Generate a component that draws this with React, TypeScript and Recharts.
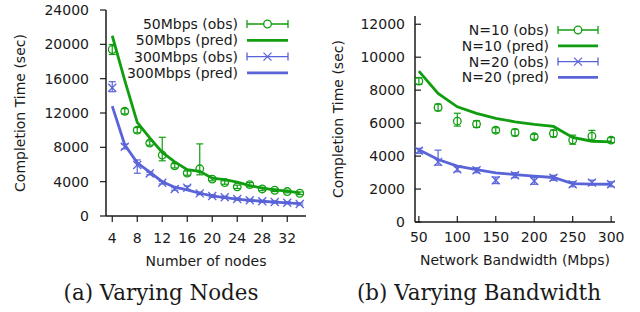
import React from 'react';
import { LineChart, Line, XAxis, YAxis, ErrorBar } from 'recharts';

const GREEN = '#109e10';
const BLUE = '#5a64d8';
const INK = '#1a1a1a';
const FONT = "'DejaVu Sans', sans-serif";
const SERIF = "'DejaVu Serif', serif";
const FS = 14;

// (a) varying nodes
const nodes = [4, 6, 8, 10, 12, 14, 16, 18, 20, 22, 24, 26, 28, 30, 32, 34];
const obs50 = [19400, 12200, 10000, 8500, 7100, 5850, 5000, 5500, 4300, 3900, 3400, 3650, 3150, 3000, 2850, 2650];
const err50 = [[580, 580], [300, 300], [300, 300], [250, 250], [670, 2070], [250, 250], [250, 250], [700, 2900], [200, 200], [200, 200], [200, 200], [250, 250], [200, 200], [150, 150], [150, 150], [150, 150]];
const pred50 = [21000, 15800, 10900, 9100, 7400, 6300, 5400, 5200, 4400, 4250, 3950, 3550, 3250, 3050, 2900, 2700];
const obs300 = [14950, 8070, 5950, 4950, 3880, 3150, 3300, 2640, 2330, 2180, 1980, 1830, 1710, 1630, 1550, 1400];
const err300 = [[470, 700], [250, 300], [970, 580], [150, 150], [150, 150], [150, 150], [200, 200], [150, 150], [150, 150], [120, 120], [120, 120], [120, 120], [120, 120], [120, 120], [120, 120], [120, 120]];
const pred300 = [12800, 8300, 6200, 5100, 4000, 3350, 3050, 2650, 2350, 2150, 1970, 1830, 1720, 1620, 1530, 1430];
const nodeTicks = [4, 8, 12, 16, 20, 24, 28, 32];
const nodeYTicks = [0, 4000, 8000, 12000, 16000, 20000, 24000];

// (b) varying bandwidth
const bandwidth = [50, 75, 100, 125, 150, 175, 200, 225, 250, 275, 300];
const obs10 = [8550, 6950, 6120, 5940, 5570, 5430, 5170, 5370, 4970, 5210, 4970];
const err10 = [[200, 200], [200, 200], [300, 480], [200, 200], [150, 150], [200, 200], [150, 150], [200, 200], [250, 300], [250, 350], [150, 150]];
const pred10 = [9160, 7800, 6990, 6590, 6290, 6080, 5920, 5800, 5130, 4900, 4860];
const obs20 = [4320, 3650, 3200, 3140, 2530, 2840, 2490, 2680, 2290, 2390, 2290];
const err20 = [[150, 150], [200, 710], [150, 150], [150, 150], [200, 200], [150, 150], [200, 200], [150, 150], [150, 150], [150, 150], [150, 150]];
const pred20 = [4380, 3790, 3390, 3180, 2980, 2880, 2790, 2700, 2330, 2300, 2290];
const bwTicks = [50, 100, 150, 200, 250, 300];
const bwYTicks = [0, 2000, 4000, 6000, 8000, 10000, 12000];

const nodeData = nodes.map((n, i) => ({
  n, obs50: obs50[i], err50: err50[i], pred50: pred50[i],
  obs300: obs300[i], err300: err300[i], pred300: pred300[i],
}));
const bwData = bandwidth.map((b, i) => ({
  b, obs10: obs10[i], err10: err10[i], pred10: pred10[i],
  obs20: obs20[i], err20: err20[i], pred20: pred20[i],
}));

const legendA = [
  { label: '50Mbps (obs)', color: GREEN, kind: 'circle' },
  { label: '50Mbps (pred)', color: GREEN, kind: 'line' },
  { label: '300Mbps (obs)', color: BLUE, kind: 'cross' },
  { label: '300Mbps (pred)', color: BLUE, kind: 'line' },
];
const legendB = [
  { label: 'N=10 (obs)', color: GREEN, kind: 'circle' },
  { label: 'N=10 (pred)', color: GREEN, kind: 'line' },
  { label: 'N=20 (obs)', color: BLUE, kind: 'cross' },
  { label: 'N=20 (pred)', color: BLUE, kind: 'line' },
];

const circleDot = (props: any) => {
  const { cx, cy, index } = props;
  if (cx == null || cy == null) return <g key={index} />;
  return <circle key={index} cx={cx} cy={cy} r={3.8} fill="none" stroke={GREEN} strokeWidth={1.3} />;
};

const crossDot = (props: any) => {
  const { cx, cy, index } = props;
  if (cx == null || cy == null) return <g key={index} />;
  const s = 4;
  return (
    <g key={index} stroke={BLUE} strokeWidth={1.3}>
      <line x1={cx - s} y1={cy - s} x2={cx + s} y2={cy + s} />
      <line x1={cx - s} y1={cy + s} x2={cx + s} y2={cy - s} />
    </g>
  );
};

// right panel has its ticks drawn inside the plot
const InYTick = (props: any) => {
  const { x, y, payload } = props;
  return (
    <g>
      <line x1={x + 10} x2={x + 16} y1={y} y2={y} stroke={INK} strokeWidth={1.2} />
      <text x={x} y={y} dy="0.35em" textAnchor="end" fontFamily={FONT} fontSize={FS} fill={INK}>{payload.value}</text>
    </g>
  );
};
const InXTick = (props: any) => {
  const { x, y, payload } = props;
  return (
    <g>
      <line x1={x} x2={x} y1={y - 10} y2={y - 16} stroke={INK} strokeWidth={1.2} />
      <text x={x} y={y} dy="0.71em" textAnchor="middle" fontFamily={FONT} fontSize={FS} fill={INK}>{payload.value}</text>
    </g>
  );
};

const tickStyle = { fill: INK, fontSize: FS, fontFamily: FONT };
const axisLine = { stroke: INK, strokeWidth: 1.5 };

const LegendRows = ({ items, textX, x0, x1, y0, step }: any) => (
  <g>
    {items.map((it: any, i: number) => {
      const y = y0 + i * step;
      const mid = (x0 + x1) / 2;
      return (
        <g key={it.label}>
          <text x={textX} y={y} dy="0.35em" textAnchor="end" fontFamily={FONT} fontSize={FS} fill={INK}>{it.label}</text>
          {it.kind === 'line' ? (
            <line x1={x0} x2={x1} y1={y} y2={y} stroke={it.color} strokeWidth={2.8} />
          ) : (
            <g stroke={it.color} strokeWidth={1.3} fill="none">
              <line x1={x0} x2={x1} y1={y} y2={y} />
              <line x1={x0} x2={x0} y1={y - 4} y2={y + 4} />
              <line x1={x1} x2={x1} y1={y - 4} y2={y + 4} />
              {it.kind === 'circle' ? (
                <circle cx={mid} cy={y} r={3.8} fill="#fff" />
              ) : (
                <g>
                  <line x1={mid - 4} y1={y - 4} x2={mid + 4} y2={y + 4} />
                  <line x1={mid - 4} y1={y + 4} x2={mid + 4} y2={y - 4} />
                </g>
              )}
            </g>
          )}
        </g>
      );
    })}
  </g>
);

export default function App() {
  return (
    <div style={{ position: 'absolute', left: 0, top: 0, width: 640, height: 312, background: '#fff' }}>
      <div style={{ position: 'absolute', left: 0, top: 0 }}>
        <LineChart width={320} height={312} data={nodeData} margin={{ top: 10, right: 14, bottom: 66, left: 0 }}>
          <XAxis dataKey="n" type="number" domain={[3, 35]} ticks={nodeTicks} allowDataOverflow
            tick={tickStyle} tickSize={6} tickMargin={11} height={30}
            axisLine={axisLine} tickLine={{ stroke: INK, strokeWidth: 1.2 }}
            label={{ value: 'Number of nodes', position: 'bottom', offset: 10, fill: INK, fontSize: FS, fontFamily: FONT }} />
          <YAxis type="number" domain={[0, 24000]} ticks={nodeYTicks} allowDataOverflow width={106}
            tick={tickStyle} tickSize={6} tickMargin={11}
            axisLine={axisLine} tickLine={{ stroke: INK, strokeWidth: 1.2 }}
            label={{ value: 'Completion Time (sec)', angle: -90, position: 'center', dx: -33, fill: INK, fontSize: FS, fontFamily: FONT }} />
          <Line dataKey="obs50" stroke="none" dot={circleDot} activeDot={false} isAnimationActive={false}>
            <ErrorBar dataKey="err50" width={3.5} stroke={GREEN} strokeWidth={1.2} direction="y" />
          </Line>
          <Line dataKey="pred50" type="linear" stroke={GREEN} strokeWidth={2.8} dot={false} activeDot={false} isAnimationActive={false} />
          <Line dataKey="obs300" stroke="none" dot={crossDot} activeDot={false} isAnimationActive={false}>
            <ErrorBar dataKey="err300" width={3.5} stroke={BLUE} strokeWidth={1.2} direction="y" />
          </Line>
          <Line dataKey="pred300" type="linear" stroke={BLUE} strokeWidth={2.8} dot={false} activeDot={false} isAnimationActive={false} />
        </LineChart>
      </div>
      <div style={{ position: 'absolute', left: 320, top: 0 }}>
        <LineChart width={320} height={312} data={bwData} margin={{ top: 16, right: 25, bottom: 60, left: 0 }}>
          <XAxis dataKey="b" type="number" domain={[45, 305]} ticks={bwTicks} allowDataOverflow
            tick={<InXTick />} tickSize={0} tickMargin={10} height={30}
            axisLine={axisLine} tickLine={false}
            label={{ value: 'Network Bandwidth (Mbps)', position: 'bottom', offset: 3, fill: INK, fontSize: FS, fontFamily: FONT }} />
          <YAxis type="number" domain={[0, 12500]} ticks={bwYTicks} allowDataOverflow width={95}
            tick={<InYTick />} tickSize={0} tickMargin={10}
            axisLine={axisLine} tickLine={false}
            label={{ value: 'Completion Time (sec)', angle: -90, position: 'center', dx: -29.5, fill: INK, fontSize: FS, fontFamily: FONT }} />
          <Line dataKey="obs10" stroke="none" dot={circleDot} activeDot={false} isAnimationActive={false}>
            <ErrorBar dataKey="err10" width={3.5} stroke={GREEN} strokeWidth={1.2} direction="y" />
          </Line>
          <Line dataKey="pred10" type="linear" stroke={GREEN} strokeWidth={2.8} dot={false} activeDot={false} isAnimationActive={false} />
          <Line dataKey="obs20" stroke="none" dot={crossDot} activeDot={false} isAnimationActive={false}>
            <ErrorBar dataKey="err20" width={3.5} stroke={BLUE} strokeWidth={1.2} direction="y" />
          </Line>
          <Line dataKey="pred20" type="linear" stroke={BLUE} strokeWidth={2.8} dot={false} activeDot={false} isAnimationActive={false} />
        </LineChart>
      </div>
      <svg width={640} height={312} style={{ position: 'absolute', left: 0, top: 0, pointerEvents: 'none' }}>
        <LegendRows items={legendA} textX={238} x0={247} x1={288} y0={24} step={16.3} />
        <LegendRows items={legendB} textX={549} x0={558} x1={598} y0={30} step={15.8} />
        <text x={161} y={299.5} textAnchor="middle" fontFamily={SERIF} fontSize={21.4} fill={INK}>(a) Varying Nodes</text>
        <text x={479} y={299.5} textAnchor="middle" fontFamily={SERIF} fontSize={21.4} fill={INK}>(b) Varying Bandwidth</text>
      </svg>
    </div>
  );
}
